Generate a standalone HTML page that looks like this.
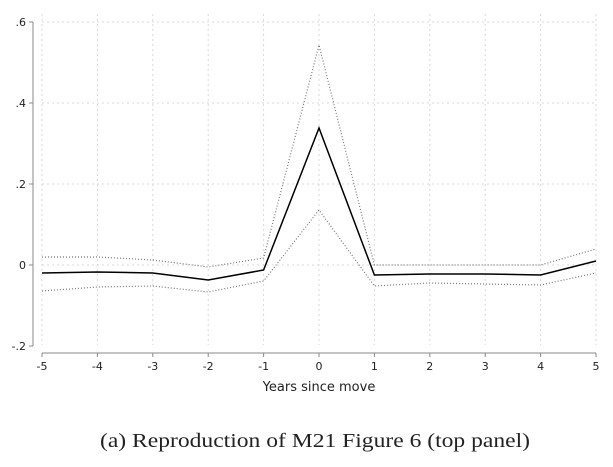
<!DOCTYPE html>
<html><head><style>body{margin:0;background:#fff}</style></head><body>
<svg width="613" height="462" xmlns="http://www.w3.org/2000/svg" font-family="'DejaVu Sans','Liberation Sans',sans-serif">
<rect width="613" height="462" fill="#fff"/>
<g stroke="#d8d8d8" stroke-width="1" stroke-dasharray="2,3">
<line x1="42" y1="22" x2="596" y2="22"/><line x1="42" y1="103" x2="596" y2="103"/><line x1="42" y1="184" x2="596" y2="184"/><line x1="42" y1="265" x2="596" y2="265"/>
<line x1="42" y1="14" x2="42" y2="345"/><line x1="97.4" y1="14" x2="97.4" y2="345"/><line x1="152.8" y1="14" x2="152.8" y2="345"/><line x1="208.2" y1="14" x2="208.2" y2="345"/><line x1="263.6" y1="14" x2="263.6" y2="345"/><line x1="319" y1="14" x2="319" y2="345"/><line x1="374.4" y1="14" x2="374.4" y2="345"/><line x1="429.8" y1="14" x2="429.8" y2="345"/><line x1="485.2" y1="14" x2="485.2" y2="345"/><line x1="540.6" y1="14" x2="540.6" y2="345"/><line x1="596" y1="14" x2="596" y2="345"/>
</g>
<g stroke="#888" stroke-width="1" fill="none">
<line x1="33" y1="22" x2="33" y2="346"/><line x1="29" y1="22" x2="33" y2="22"/><line x1="29" y1="103" x2="33" y2="103"/><line x1="29" y1="184" x2="33" y2="184"/><line x1="29" y1="265" x2="33" y2="265"/><line x1="29" y1="346" x2="33" y2="346"/>
<line x1="42" y1="353" x2="596" y2="353"/>
<path d="M42 353v4M97.4 353v4M152.8 353v4M208.2 353v4M263.6 353v4M319 353v4M374.4 353v4M429.8 353v4M485.2 353v4M540.6 353v4M596 353v4"/>
</g>
<g font-size="11" fill="#222" text-anchor="end">
<text x="26" y="26">.6</text><text x="26" y="107">.4</text><text x="26" y="188">.2</text><text x="26" y="269">0</text><text x="26" y="350">-.2</text>
</g>
<g font-size="11" fill="#222" text-anchor="middle">
<text x="42" y="370">-5</text><text x="97.4" y="370">-4</text><text x="152.8" y="370">-3</text><text x="208.2" y="370">-2</text><text x="263.6" y="370">-1</text><text x="319" y="370">0</text><text x="374.4" y="370">1</text><text x="429.8" y="370">2</text><text x="485.2" y="370">3</text><text x="540.6" y="370">4</text><text x="596" y="370">5</text>
<text x="319" y="391" font-size="13">Years since move</text>
</g>
<g fill="none" stroke="#777" stroke-width="1.2" stroke-dasharray="1,2">
<polyline points="42,257 97.4,257 152.8,260 208.2,267 263.6,258 319,45 374.4,265 429.8,265 485.2,265 540.6,265 596,249"/>
<polyline points="42,291 97.4,287 152.8,286 208.2,292 263.6,281 319,210 374.4,286 429.8,283 485.2,284 540.6,285 596,273"/>
</g>
<polyline fill="none" stroke="#000" stroke-width="1.5" points="42,273 97.4,272 152.8,273 208.2,280 263.6,270 319,128 374.4,275 429.8,274 485.2,274 540.6,275 596,261"/>
<text x="100" y="447" font-family="'Liberation Serif',serif" font-size="20" fill="#222" textLength="430" lengthAdjust="spacingAndGlyphs">(a) Reproduction of M21 Figure 6 (top panel)</text>
</svg>
</body></html>
